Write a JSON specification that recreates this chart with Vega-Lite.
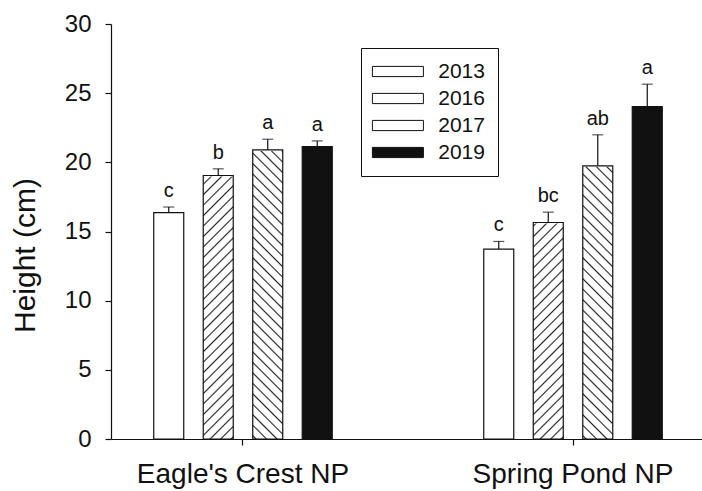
{
  "$schema": "https://vega.github.io/schema/vega-lite/v6.json",
  "width": 594,
  "height": 415,
  "autosize": {"type": "none"},
  "padding": {"left": 111, "top": 24, "right": 0, "bottom": 52},
  "background": "white",
  "config": {
    "font": "Liberation Sans",
    "view": {"stroke": null},
    "axis": {"grid": false, "domainColor": "#111", "tickColor": "#111", "domainWidth": 1.2, "tickWidth": 1.2, "labelColor": "#111", "titleColor": "#111", "labelFont": "Liberation Sans", "titleFont": "Liberation Sans", "titleFontWeight": "normal"}
  },
  "data": {
    "values": [
      {"site": "Eagle's Crest NP", "year": "2013", "mean": 16.37, "upper": 16.77, "letter": "c"},
      {"site": "Eagle's Crest NP", "year": "2016", "mean": 19.05, "upper": 19.53, "letter": "b"},
      {"site": "Eagle's Crest NP", "year": "2017", "mean": 20.90, "upper": 21.67, "letter": "a"},
      {"site": "Eagle's Crest NP", "year": "2019", "mean": 21.14, "upper": 21.55, "letter": "a"},
      {"site": "Spring Pond NP", "year": "2013", "mean": 13.73, "upper": 14.28, "letter": "c"},
      {"site": "Spring Pond NP", "year": "2016", "mean": 15.65, "upper": 16.40, "letter": "bc"},
      {"site": "Spring Pond NP", "year": "2017", "mean": 19.75, "upper": 21.99, "letter": "ab"},
      {"site": "Spring Pond NP", "year": "2019", "mean": 24.03, "upper": 25.65, "letter": "a"}
    ]
  },
  "encoding": {
    "x": {
      "field": "site", "type": "nominal", "sort": ["Eagle's Crest NP", "Spring Pond NP"],
      "scale": {"paddingInner": 0.4591, "paddingOuter": 0.1295},
      "axis": {"title": null, "labelAngle": 0, "labelFontSize": 28, "labelPadding": 15, "labelLimit": 400, "tickSize": 6, "labelColor": "#111"}
    },
    "xOffset": {
      "field": "year", "type": "nominal", "sort": ["2013", "2016", "2017", "2019"],
      "scale": {"paddingInner": 0.3939, "paddingOuter": 0}
    }
  },
  "layer": [
    {
      "transform": [{"filter": "datum.year === '2016'"}],
      "mark": {
        "type": "bar", "strokeWidth": 0,
        "fill": {"gradient": "linear", "x1": 0, "y1": 0, "x2": 0.0771, "y2": 1.0667, "stops": [
          {"offset":0.0040,"color":"#fff"},{"offset":0.0075,"color":"#222"},{"offset":0.0110,"color":"#fff"},
          {"offset":0.0275,"color":"#fff"},{"offset":0.0310,"color":"#222"},{"offset":0.0345,"color":"#fff"},
          {"offset":0.0510,"color":"#fff"},{"offset":0.0545,"color":"#222"},{"offset":0.0580,"color":"#fff"},
          {"offset":0.0746,"color":"#fff"},{"offset":0.0781,"color":"#222"},{"offset":0.0816,"color":"#fff"},
          {"offset":0.0981,"color":"#fff"},{"offset":0.1016,"color":"#222"},{"offset":0.1051,"color":"#fff"},
          {"offset":0.1216,"color":"#fff"},{"offset":0.1251,"color":"#222"},{"offset":0.1286,"color":"#fff"},
          {"offset":0.1451,"color":"#fff"},{"offset":0.1486,"color":"#222"},{"offset":0.1521,"color":"#fff"},
          {"offset":0.1686,"color":"#fff"},{"offset":0.1721,"color":"#222"},{"offset":0.1756,"color":"#fff"},
          {"offset":0.1921,"color":"#fff"},{"offset":0.1956,"color":"#222"},{"offset":0.1991,"color":"#fff"},
          {"offset":0.2157,"color":"#fff"},{"offset":0.2192,"color":"#222"},{"offset":0.2227,"color":"#fff"},
          {"offset":0.2392,"color":"#fff"},{"offset":0.2427,"color":"#222"},{"offset":0.2462,"color":"#fff"},
          {"offset":0.2627,"color":"#fff"},{"offset":0.2662,"color":"#222"},{"offset":0.2697,"color":"#fff"},
          {"offset":0.2862,"color":"#fff"},{"offset":0.2897,"color":"#222"},{"offset":0.2932,"color":"#fff"},
          {"offset":0.3097,"color":"#fff"},{"offset":0.3132,"color":"#222"},{"offset":0.3167,"color":"#fff"},
          {"offset":0.3333,"color":"#fff"},{"offset":0.3368,"color":"#222"},{"offset":0.3403,"color":"#fff"},
          {"offset":0.3568,"color":"#fff"},{"offset":0.3603,"color":"#222"},{"offset":0.3638,"color":"#fff"},
          {"offset":0.3803,"color":"#fff"},{"offset":0.3838,"color":"#222"},{"offset":0.3873,"color":"#fff"},
          {"offset":0.4038,"color":"#fff"},{"offset":0.4073,"color":"#222"},{"offset":0.4108,"color":"#fff"},
          {"offset":0.4273,"color":"#fff"},{"offset":0.4308,"color":"#222"},{"offset":0.4343,"color":"#fff"},
          {"offset":0.4508,"color":"#fff"},{"offset":0.4543,"color":"#222"},{"offset":0.4578,"color":"#fff"},
          {"offset":0.4744,"color":"#fff"},{"offset":0.4779,"color":"#222"},{"offset":0.4814,"color":"#fff"},
          {"offset":0.4979,"color":"#fff"},{"offset":0.5014,"color":"#222"},{"offset":0.5049,"color":"#fff"},
          {"offset":0.5214,"color":"#fff"},{"offset":0.5249,"color":"#222"},{"offset":0.5284,"color":"#fff"},
          {"offset":0.5449,"color":"#fff"},{"offset":0.5484,"color":"#222"},{"offset":0.5519,"color":"#fff"},
          {"offset":0.5684,"color":"#fff"},{"offset":0.5719,"color":"#222"},{"offset":0.5754,"color":"#fff"},
          {"offset":0.5920,"color":"#fff"},{"offset":0.5955,"color":"#222"},{"offset":0.5990,"color":"#fff"},
          {"offset":0.6155,"color":"#fff"},{"offset":0.6190,"color":"#222"},{"offset":0.6225,"color":"#fff"},
          {"offset":0.6390,"color":"#fff"},{"offset":0.6425,"color":"#222"},{"offset":0.6460,"color":"#fff"},
          {"offset":0.6625,"color":"#fff"},{"offset":0.6660,"color":"#222"},{"offset":0.6695,"color":"#fff"},
          {"offset":0.6860,"color":"#fff"},{"offset":0.6895,"color":"#222"},{"offset":0.6930,"color":"#fff"},
          {"offset":0.7095,"color":"#fff"},{"offset":0.7130,"color":"#222"},{"offset":0.7165,"color":"#fff"},
          {"offset":0.7331,"color":"#fff"},{"offset":0.7366,"color":"#222"},{"offset":0.7401,"color":"#fff"},
          {"offset":0.7566,"color":"#fff"},{"offset":0.7601,"color":"#222"},{"offset":0.7636,"color":"#fff"},
          {"offset":0.7801,"color":"#fff"},{"offset":0.7836,"color":"#222"},{"offset":0.7871,"color":"#fff"},
          {"offset":0.8036,"color":"#fff"},{"offset":0.8071,"color":"#222"},{"offset":0.8106,"color":"#fff"},
          {"offset":0.8271,"color":"#fff"},{"offset":0.8306,"color":"#222"},{"offset":0.8341,"color":"#fff"},
          {"offset":0.8506,"color":"#fff"},{"offset":0.8541,"color":"#222"},{"offset":0.8576,"color":"#fff"},
          {"offset":0.8742,"color":"#fff"},{"offset":0.8777,"color":"#222"},{"offset":0.8812,"color":"#fff"},
          {"offset":0.8977,"color":"#fff"},{"offset":0.9012,"color":"#222"},{"offset":0.9047,"color":"#fff"},
          {"offset":0.9212,"color":"#fff"},{"offset":0.9247,"color":"#222"},{"offset":0.9282,"color":"#fff"},
          {"offset":0.9447,"color":"#fff"},{"offset":0.9482,"color":"#222"},{"offset":0.9517,"color":"#fff"},
          {"offset":0.9682,"color":"#fff"},{"offset":0.9717,"color":"#222"},{"offset":0.9752,"color":"#fff"},
          {"offset":0.9918,"color":"#fff"},{"offset":0.9953,"color":"#222"},{"offset":0.9988,"color":"#fff"}
        ]}
      },
      "encoding": {
        "y": {"datum": 30, "type": "quantitative", "title": "Height (cm)"},
        "y2": {"datum": 0}
      }
    },
    {
      "transform": [{"filter": "datum.year === '2017'"}],
      "mark": {
        "type": "bar", "strokeWidth": 0,
        "fill": {"gradient": "linear", "x1": 0, "y1": 1, "x2": 0.0771, "y2": -0.0667, "stops": [
          {"offset":0.0040,"color":"#fff"},{"offset":0.0075,"color":"#222"},{"offset":0.0110,"color":"#fff"},
          {"offset":0.0275,"color":"#fff"},{"offset":0.0310,"color":"#222"},{"offset":0.0345,"color":"#fff"},
          {"offset":0.0510,"color":"#fff"},{"offset":0.0545,"color":"#222"},{"offset":0.0580,"color":"#fff"},
          {"offset":0.0746,"color":"#fff"},{"offset":0.0781,"color":"#222"},{"offset":0.0816,"color":"#fff"},
          {"offset":0.0981,"color":"#fff"},{"offset":0.1016,"color":"#222"},{"offset":0.1051,"color":"#fff"},
          {"offset":0.1216,"color":"#fff"},{"offset":0.1251,"color":"#222"},{"offset":0.1286,"color":"#fff"},
          {"offset":0.1451,"color":"#fff"},{"offset":0.1486,"color":"#222"},{"offset":0.1521,"color":"#fff"},
          {"offset":0.1686,"color":"#fff"},{"offset":0.1721,"color":"#222"},{"offset":0.1756,"color":"#fff"},
          {"offset":0.1921,"color":"#fff"},{"offset":0.1956,"color":"#222"},{"offset":0.1991,"color":"#fff"},
          {"offset":0.2157,"color":"#fff"},{"offset":0.2192,"color":"#222"},{"offset":0.2227,"color":"#fff"},
          {"offset":0.2392,"color":"#fff"},{"offset":0.2427,"color":"#222"},{"offset":0.2462,"color":"#fff"},
          {"offset":0.2627,"color":"#fff"},{"offset":0.2662,"color":"#222"},{"offset":0.2697,"color":"#fff"},
          {"offset":0.2862,"color":"#fff"},{"offset":0.2897,"color":"#222"},{"offset":0.2932,"color":"#fff"},
          {"offset":0.3097,"color":"#fff"},{"offset":0.3132,"color":"#222"},{"offset":0.3167,"color":"#fff"},
          {"offset":0.3333,"color":"#fff"},{"offset":0.3368,"color":"#222"},{"offset":0.3403,"color":"#fff"},
          {"offset":0.3568,"color":"#fff"},{"offset":0.3603,"color":"#222"},{"offset":0.3638,"color":"#fff"},
          {"offset":0.3803,"color":"#fff"},{"offset":0.3838,"color":"#222"},{"offset":0.3873,"color":"#fff"},
          {"offset":0.4038,"color":"#fff"},{"offset":0.4073,"color":"#222"},{"offset":0.4108,"color":"#fff"},
          {"offset":0.4273,"color":"#fff"},{"offset":0.4308,"color":"#222"},{"offset":0.4343,"color":"#fff"},
          {"offset":0.4508,"color":"#fff"},{"offset":0.4543,"color":"#222"},{"offset":0.4578,"color":"#fff"},
          {"offset":0.4744,"color":"#fff"},{"offset":0.4779,"color":"#222"},{"offset":0.4814,"color":"#fff"},
          {"offset":0.4979,"color":"#fff"},{"offset":0.5014,"color":"#222"},{"offset":0.5049,"color":"#fff"},
          {"offset":0.5214,"color":"#fff"},{"offset":0.5249,"color":"#222"},{"offset":0.5284,"color":"#fff"},
          {"offset":0.5449,"color":"#fff"},{"offset":0.5484,"color":"#222"},{"offset":0.5519,"color":"#fff"},
          {"offset":0.5684,"color":"#fff"},{"offset":0.5719,"color":"#222"},{"offset":0.5754,"color":"#fff"},
          {"offset":0.5920,"color":"#fff"},{"offset":0.5955,"color":"#222"},{"offset":0.5990,"color":"#fff"},
          {"offset":0.6155,"color":"#fff"},{"offset":0.6190,"color":"#222"},{"offset":0.6225,"color":"#fff"},
          {"offset":0.6390,"color":"#fff"},{"offset":0.6425,"color":"#222"},{"offset":0.6460,"color":"#fff"},
          {"offset":0.6625,"color":"#fff"},{"offset":0.6660,"color":"#222"},{"offset":0.6695,"color":"#fff"},
          {"offset":0.6860,"color":"#fff"},{"offset":0.6895,"color":"#222"},{"offset":0.6930,"color":"#fff"},
          {"offset":0.7095,"color":"#fff"},{"offset":0.7130,"color":"#222"},{"offset":0.7165,"color":"#fff"},
          {"offset":0.7331,"color":"#fff"},{"offset":0.7366,"color":"#222"},{"offset":0.7401,"color":"#fff"},
          {"offset":0.7566,"color":"#fff"},{"offset":0.7601,"color":"#222"},{"offset":0.7636,"color":"#fff"},
          {"offset":0.7801,"color":"#fff"},{"offset":0.7836,"color":"#222"},{"offset":0.7871,"color":"#fff"},
          {"offset":0.8036,"color":"#fff"},{"offset":0.8071,"color":"#222"},{"offset":0.8106,"color":"#fff"},
          {"offset":0.8271,"color":"#fff"},{"offset":0.8306,"color":"#222"},{"offset":0.8341,"color":"#fff"},
          {"offset":0.8506,"color":"#fff"},{"offset":0.8541,"color":"#222"},{"offset":0.8576,"color":"#fff"},
          {"offset":0.8742,"color":"#fff"},{"offset":0.8777,"color":"#222"},{"offset":0.8812,"color":"#fff"},
          {"offset":0.8977,"color":"#fff"},{"offset":0.9012,"color":"#222"},{"offset":0.9047,"color":"#fff"},
          {"offset":0.9212,"color":"#fff"},{"offset":0.9247,"color":"#222"},{"offset":0.9282,"color":"#fff"},
          {"offset":0.9447,"color":"#fff"},{"offset":0.9482,"color":"#222"},{"offset":0.9517,"color":"#fff"},
          {"offset":0.9682,"color":"#fff"},{"offset":0.9717,"color":"#222"},{"offset":0.9752,"color":"#fff"},
          {"offset":0.9918,"color":"#fff"},{"offset":0.9953,"color":"#222"},{"offset":0.9988,"color":"#fff"}
        ]}
      },
      "encoding": {
        "y": {"datum": 30, "type": "quantitative", "title": "Height (cm)"},
        "y2": {"datum": 0}
      }
    },
    {
      "transform": [{"filter": "datum.year === '2016' || datum.year === '2017'"}],
      "mark": {"type": "bar", "fill": "white", "stroke": "white", "strokeWidth": 2},
      "encoding": {
        "y": {"field": "mean", "type": "quantitative", "title": "Height (cm)"},
        "y2": {"datum": 30}
      }
    },
    {
      "mark": {"type": "bar", "stroke": "#111", "strokeWidth": 1.2},
      "encoding": {
        "y": {
          "field": "mean", "type": "quantitative", "title": "Height (cm)",
          "scale": {"domain": [0, 30], "nice": false, "zero": true},
          "axis": {"values": [0, 5, 10, 15, 20, 25, 30], "labelFontSize": 24, "tickSize": 6, "labelPadding": 14, "titleFontSize": 30, "titlePadding": 24, "titleY": 231}
        },
        "fill": {
          "field": "year", "type": "nominal",
          "scale": {"domain": ["2013", "2016", "2017", "2019"], "range": ["white", "transparent", "transparent", "#111"]},
          "legend": {
            "title": null, "orient": "none", "legendX": 250, "legendY": 24,
            "strokeColor": "#111", "fillColor": "white", "padding": 13,
            "labelFontSize": 21, "labelFont": "Liberation Sans", "labelColor": "#111",
            "symbolType": "M-5,-1H5V1H-5Z", "symbolSize": 104, "symbolOffset": 13.4, "labelOffset": 29.8,
            "symbolStrokeColor": "#111", "symbolStrokeWidth": 1,
            "rowPadding": 5,
            "encode": {
              "symbols": {
                "update": {
                  "stroke": {"value": "#111"},
                  "strokeWidth": {"value": 1},
                  "fill": [
                    {"test": "datum.value === '2016'", "value": {"gradient": "linear", "x1": 0, "y1": 0, "x2": 1.1518, "y2": 0.2258, "stops": [
                      {"offset":0.020,"color":"#fff"},{"offset":0.0455,"color":"#222"},{"offset":0.071,"color":"#fff"},
                      {"offset":0.2055,"color":"#fff"},{"offset":0.231,"color":"#222"},{"offset":0.2565,"color":"#fff"},
                      {"offset":0.391,"color":"#fff"},{"offset":0.4165,"color":"#222"},{"offset":0.442,"color":"#fff"},
                      {"offset":0.5765,"color":"#fff"},{"offset":0.602,"color":"#222"},{"offset":0.6275,"color":"#fff"},
                      {"offset":0.762,"color":"#fff"},{"offset":0.7875,"color":"#222"},{"offset":0.813,"color":"#fff"},
                      {"offset":0.9475,"color":"#fff"},{"offset":0.973,"color":"#222"},{"offset":0.9985,"color":"#fff"}
                    ]}},
                    {"test": "datum.value === '2017'", "value": {"gradient": "linear", "x1": 0, "y1": 1, "x2": 1.1518, "y2": 0.7742, "stops": [
                      {"offset":0.020,"color":"#fff"},{"offset":0.0455,"color":"#222"},{"offset":0.071,"color":"#fff"},
                      {"offset":0.2055,"color":"#fff"},{"offset":0.231,"color":"#222"},{"offset":0.2565,"color":"#fff"},
                      {"offset":0.391,"color":"#fff"},{"offset":0.4165,"color":"#222"},{"offset":0.442,"color":"#fff"},
                      {"offset":0.5765,"color":"#fff"},{"offset":0.602,"color":"#222"},{"offset":0.6275,"color":"#fff"},
                      {"offset":0.762,"color":"#fff"},{"offset":0.7875,"color":"#222"},{"offset":0.813,"color":"#fff"},
                      {"offset":0.9475,"color":"#fff"},{"offset":0.973,"color":"#222"},{"offset":0.9985,"color":"#fff"}
                    ]}},
                    {"test": "datum.value === '2019'", "value": "#111"},
                    {"value": "white"}
                  ]
                }
              }
            }
          }
        }
      }
    },
    {
      "mark": {"type": "rule", "stroke": "#111", "strokeWidth": 1.2},
      "encoding": {
        "y": {"field": "mean", "type": "quantitative", "title": "Height (cm)"},
        "y2": {"field": "upper"}
      }
    },
    {
      "mark": {"type": "tick", "color": "#111", "size": 11, "thickness": 1.2, "orient": "horizontal"},
      "encoding": {
        "y": {"field": "upper", "type": "quantitative", "title": "Height (cm)"}
      }
    },
    {
      "mark": {"type": "text", "fontSize": 20, "baseline": "alphabetic", "dy": -10, "color": "#111", "font": "Liberation Sans"},
      "encoding": {
        "y": {"field": "upper", "type": "quantitative", "title": "Height (cm)"},
        "text": {"field": "letter"}
      }
    }
  ]
}
